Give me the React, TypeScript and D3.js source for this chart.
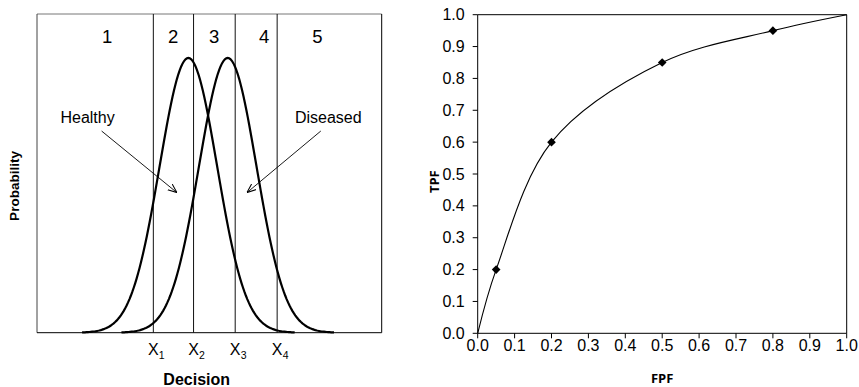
import * as d3 from "d3";

// left panel: decision axis in units of one standard deviation
const regionLabels = ["1", "2", "3", "4", "5"];
const regionLabelAt = [2.44, 4.74, 6.17, 7.91, 9.76];
const thresholds = [4.05, 5.45, 6.9, 8.36];
const thresholdNames = ["1", "2", "3", "4"];
const groupNames = ["Healthy", "Diseased"];
const groupMeans = [5.27, 6.64];
const groupSd = [1, 1];

// right panel: ROC operating points
const fpfValues = [0.05, 0.2, 0.5, 0.8];
const tpfValues = [0.2, 0.6, 0.85, 0.95];
const rocTicks = [0, 0.1, 0.2, 0.3, 0.4, 0.5, 0.6, 0.7, 0.8, 0.9, 1.0];

const W = 859;
const H = 387;
const sans = "'Liberation Sans', Arial, sans-serif";
const titleFont = "'Open Sans', 'Liberation Sans', sans-serif";

function LeftPanel() {
  const x = d3.scaleLinear().domain([0, 12]).range([37, 381.7]);
  const y = d3.scaleLinear().domain([0, 1.16]).range([332.7, 14]);
  const top = y.range()[1];
  const bottom = y.range()[0];

  const line = d3
    .line<[number, number]>()
    .x((d) => x(d[0]))
    .y((d) => y(d[1]));

  const curves = groupMeans.map((m, i) => {
    const sd = groupSd[i];
    const pts: [number, number][] = d3
      .range(-3.7, 3.7001, 0.05)
      .map((z) => [m + z * sd, Math.exp(-0.5 * z * z)]);
    return line(pts) ?? "";
  });

  // label anchors and arrow ends, in data units
  const labelPos = [
    [1.76, 0.765],
    [10.14, 0.765],
  ];
  const arrows = [
    [2.25, 0.734, 4.87, 0.51],
    [9.88, 0.734, 7.31, 0.51],
  ];

  return (
    <g>
      <defs>
        <marker
          id="arr"
          viewBox="0 0 10 10"
          refX="10"
          refY="5"
          markerWidth="9"
          markerHeight="9"
          markerUnits="userSpaceOnUse"
          orient="auto"
        >
          <path d="M0,1 L10,5 L0,9" fill="none" stroke="#000" strokeWidth="1.2" />
        </marker>
      </defs>
      {/* frame */}
      <line x1={x(0)} x2={x(12)} y1={top} y2={top} stroke="#777" />
      <line x1={x(0)} x2={x(0)} y1={top} y2={bottom} stroke="#444" />
      <line x1={x(12)} x2={x(12)} y1={top} y2={bottom} stroke="#000" />
      <line x1={x(0)} x2={x(12)} y1={bottom} y2={bottom} stroke="#000" />

      {thresholds.map((t, i) => (
        <line key={i} x1={x(t)} x2={x(t)} y1={top} y2={bottom} stroke="#111" />
      ))}

      {curves.map((d, i) => (
        <path key={i} d={d} fill="none" stroke="#000" strokeWidth={2.2} />
      ))}

      {regionLabels.map((l, i) => (
        <text key={l} x={x(regionLabelAt[i])} y={42.7} fontSize={18.5} fontFamily={sans} textAnchor="middle">
          {l}
        </text>
      ))}

      {groupNames.map((n, i) => (
        <text key={n} x={x(labelPos[i][0])} y={y(labelPos[i][1])} fontSize={16} fontFamily={sans} textAnchor="middle">
          {n}
        </text>
      ))}
      {arrows.map((a, i) => (
        <line
          key={i}
          x1={x(a[0])}
          y1={y(a[1])}
          x2={x(a[2])}
          y2={y(a[3])}
          stroke="#000"
          strokeWidth={0.9}
          markerEnd="url(#arr)"
        />
      ))}

      {thresholds.map((t, i) => (
        <g key={i}>
          <text x={x(t)} y={355} fontSize={16} fontFamily={sans} textAnchor="middle">
            X
          </text>
          <text x={x(t) + 5.5} y={359} fontSize={10.5} fontFamily={sans}>
            {thresholdNames[i]}
          </text>
        </g>
      ))}

      <text x={x(5.56)} y={385} fontSize={16} fontWeight="bold" fontFamily={sans} textAnchor="middle">
        Decision
      </text>
      <text
        transform={`translate(18.5,186) rotate(-90)`}
        fontSize={13.5}
        fontWeight="bold"
        fontFamily={sans}
        textAnchor="middle"
      >
        Probability
      </text>
    </g>
  );
}

function RightPanel() {
  const x = d3.scaleLinear().domain([0, 1]).range([477.7, 846.7]);
  const y = d3.scaleLinear().domain([0, 1]).range([333.3, 14.7]);

  const pts: [number, number][] = [[0, 0], ...fpfValues.map((f, i) => [f, tpfValues[i]] as [number, number]), [1, 1]];
  const path =
    d3
      .line<[number, number]>()
      .x((d) => x(d[0]))
      .y((d) => y(d[1]))
      .curve(d3.curveCatmullRom.alpha(0.5))(pts) ?? "";
  const diamond = d3.symbol(d3.symbolDiamond2, 48)() ?? "";

  return (
    <g>
      <line x1={x(0)} x2={x(1)} y1={y(1)} y2={y(1)} stroke="#000" />
      <line x1={x(1)} x2={x(1)} y1={y(0)} y2={y(1)} stroke="#000" />
      <line x1={x(0)} x2={x(0)} y1={y(0)} y2={y(1)} stroke="#000" />
      <line x1={x(0)} x2={x(1)} y1={y(0)} y2={y(0)} stroke="#000" />

      {rocTicks.map((t) => (
        <g key={"y" + t}>
          <line x1={x(0) - 5} x2={x(0)} y1={y(t)} y2={y(t)} stroke="#000" />
          <text x={x(0) - 13} y={y(t) + 5.5} fontSize={16} fontFamily={sans} textAnchor="end">
            {t.toFixed(1)}
          </text>
        </g>
      ))}
      {rocTicks.map((t) => (
        <g key={"x" + t}>
          <line x1={x(t)} x2={x(t)} y1={y(0)} y2={y(0) + 5} stroke="#000" />
          <text x={x(t)} y={350.5} fontSize={16} fontFamily={sans} textAnchor="middle">
            {t.toFixed(1)}
          </text>
        </g>
      ))}

      <path d={path} fill="none" stroke="#000" strokeWidth={1.1} />
      {fpfValues.map((f, i) => (
        <path key={i} d={diamond} transform={`translate(${x(f)},${y(tpfValues[i])})`} fill="#000" />
      ))}

      <text x={(x(0) + x(1)) / 2} y={383} fontSize={13} fontWeight="bold" fontFamily={titleFont} textAnchor="middle">
        FPF
      </text>
      <text
        transform={`translate(438.5,181.7) rotate(-90)`}
        fontSize={13}
        fontWeight="bold"
        fontFamily={titleFont}
        textAnchor="middle"
      >
        TPF
      </text>
    </g>
  );
}

export default function App() {
  return (
    <>
      <style>{`body{margin:0;background:#fff}`}</style>
      <svg width={W} height={H} style={{ display: "block" }}>
        <rect width={W} height={H} fill="#fff" />
        <LeftPanel />
        <RightPanel />
      </svg>
    </>
  );
}
